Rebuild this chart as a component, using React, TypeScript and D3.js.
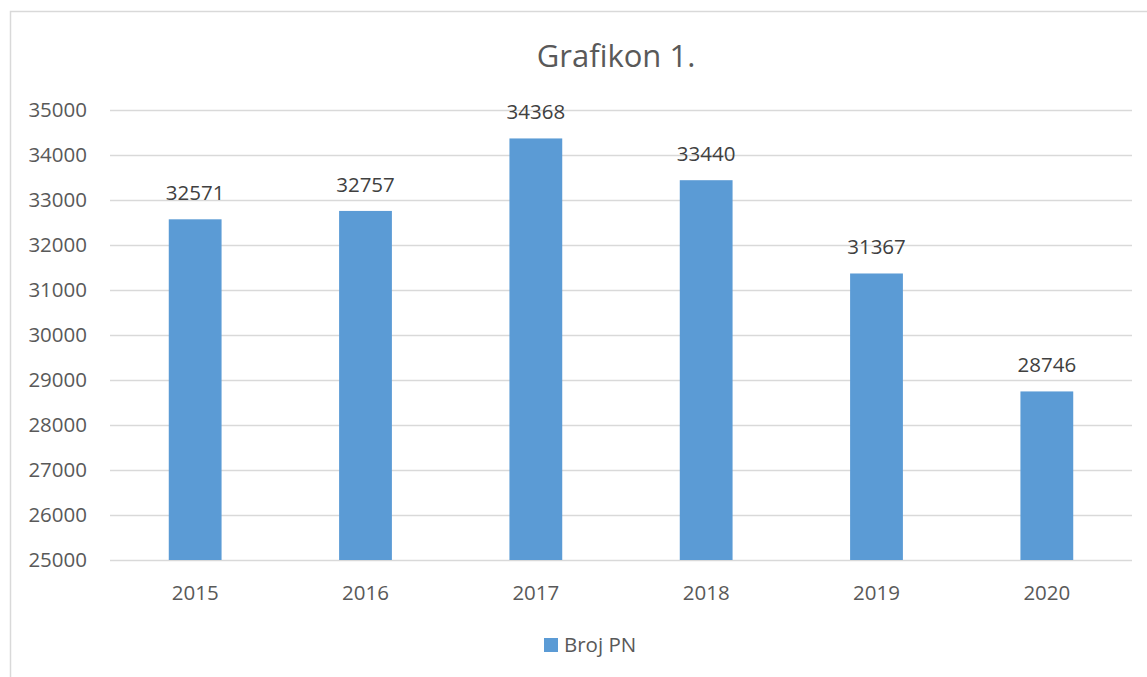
import { useEffect, useRef } from 'react';
import * as d3 from 'd3';

const years = ['2015', '2016', '2017', '2018', '2019', '2020'];
const brojPN = [32571, 32757, 34368, 33440, 31367, 28746];
const yTicks = [25000, 26000, 27000, 28000, 29000, 30000, 31000, 32000, 33000, 34000, 35000];
const seriesName = 'Broj PN';
const chartTitle = 'Grafikon 1.';

export default function App() {
  const svgRef = useRef<SVGSVGElement>(null);

  useEffect(() => {
    if (!svgRef.current) return;

    const width = 1147;
    const height = 677;
    const margin = { top: 110, right: 15, bottom: 117, left: 110 };
    const font = '"Open Sans", "Noto Sans", sans-serif';
    const textColor = '#595959';
    const gridColor = '#d9d9d9';
    const barColor = '#5b9bd5';

    const svg = d3.select(svgRef.current)
      .attr('width', width)
      .attr('height', height)
      .attr('viewBox', `0 0 ${width} ${height}`);

    svg.selectAll('*').remove();

    svg.append('rect')
      .attr('width', width).attr('height', height)
      .attr('fill', '#fff');

    // chart border (only left and top visible)
    svg.append('path')
      .attr('d', `M10.5,${height} V11.5 H${width}`)
      .attr('fill', 'none')
      .attr('stroke', gridColor)
      .attr('stroke-width', 1.5);

    const x = d3.scaleBand()
      .domain(years)
      .range([margin.left, width - margin.right])
      .paddingInner(0.69)
      .paddingOuter(0.345);

    const y = d3.scaleLinear()
      .domain([25000, 35000])
      .range([height - margin.bottom, margin.top]);

    // grid
    svg.append('g')
      .selectAll('line')
      .data(yTicks)
      .join('line')
      .attr('x1', margin.left).attr('x2', width - margin.right)
      .attr('y1', d => Math.round(y(d)) + 0.5).attr('y2', d => Math.round(y(d)) + 0.5)
      .attr('stroke', gridColor)
      .attr('stroke-width', 1.3);

    // y labels
    svg.append('g')
      .selectAll('text')
      .data(yTicks)
      .join('text')
      .attr('x', 87)
      .attr('y', d => y(d))
      .attr('dy', '0.36em')
      .attr('text-anchor', 'end')
      .style('font-family', font)
      .style('font-size', '20.5px')
      .style('fill', textColor)
      .text(d => d);

    // bars
    svg.append('g')
      .selectAll('rect')
      .data(brojPN)
      .join('rect')
      .attr('x', (_, i) => x(years[i])!)
      .attr('y', d => y(d))
      .attr('width', x.bandwidth())
      .attr('height', d => y(25000) - y(d))
      .attr('fill', barColor);

    // value labels
    svg.append('g')
      .selectAll('text')
      .data(brojPN)
      .join('text')
      .attr('x', (_, i) => x(years[i])! + x.bandwidth() / 2)
      .attr('y', d => y(d) - 19)
      .attr('text-anchor', 'middle')
      .style('font-family', font)
      .style('font-size', '20.5px')
      .style('fill', '#404040')
      .text(d => d);

    // x labels
    svg.append('g')
      .selectAll('text')
      .data(years)
      .join('text')
      .attr('x', d => x(d)! + x.bandwidth() / 2)
      .attr('y', 600)
      .attr('text-anchor', 'middle')
      .style('font-family', font)
      .style('font-size', '20.5px')
      .style('fill', textColor)
      .text(d => d);

    // title
    svg.append('text')
      .attr('x', 616)
      .attr('y', 67)
      .attr('text-anchor', 'middle')
      .style('font-family', font)
      .style('font-size', '31px')
      .style('fill', textColor)
      .text(chartTitle);

    // legend
    svg.append('rect')
      .attr('x', 544).attr('y', 638)
      .attr('width', 14).attr('height', 14)
      .attr('fill', barColor);
    svg.append('text')
      .attr('x', 564)
      .attr('y', 652)
      .style('font-family', font)
      .style('font-size', '20.5px')
      .style('fill', textColor)
      .text(seriesName);
  }, []);

  return (
    <div style={{ position: 'fixed', left: 0, top: 0, width: 1147, height: 677, background: '#fff' }}>
      <svg ref={svgRef} style={{ display: 'block' }}></svg>
    </div>
  );
}
